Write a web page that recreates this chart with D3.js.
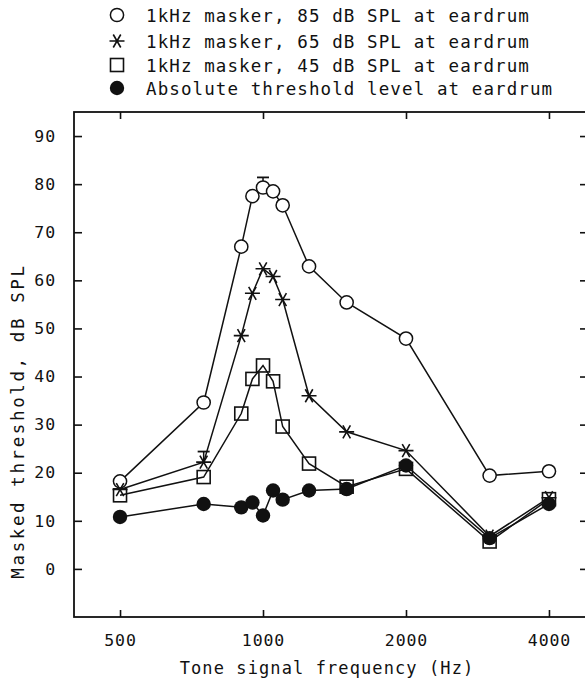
<!DOCTYPE html>
<html>
<head>
<meta charset="utf-8">
<script src="https://cdn.jsdelivr.net/npm/d3@7"></script>
<style>
  html, body { margin: 0; padding: 0; background: #fff; }
  svg { display: block; }
  text { font-family: "DejaVu Sans Mono", monospace; fill: #111; }
</style>
</head>
<body>
<svg id="chart" width="585" height="681"></svg>
<script>
// Tone frequencies (Hz) for the masker series and for the absolute threshold
const freqMasker = [500, 750, 900, 950, 1000, 1050, 1100, 1250, 1500, 2000, 3000, 4000];
const freqAbsolute = [500, 750, 900, 950, 1000, 1050, 1100, 1250, 1500, 2000, 3000, 4000];

// Masked thresholds in dB SPL
const masker85 = [18.2, 34.6, 67.0, 77.5, 79.3, 78.5, 75.6, 62.9, 55.4, 47.9, 19.4, 20.3];
const masker65 = [16.5, 22.2, 48.5, 57.3, 62.4, 60.8, 56.0, 36.0, 28.5, 24.6, 6.8, 14.8];
const masker45 = [15.3, 19.1, 32.3, 39.5, 42.3, 39.0, 29.6, 21.9, 17.1, 20.8, 5.7, 14.5];
const absoluteThreshold = [10.8, 13.5, 12.8, 13.8, 11.1, 16.3, 14.4, 16.3, 16.6, 21.5, 6.4, 13.5];

// Upper error bars: [frequency, mean, upper end]
const errorBars85 = [[1000, 79.3, 81.4]];
const errorBars65 = [[750, 22.2, 24.4]];

const xTicks = [500, 1000, 2000, 4000];
const yTicks = [0, 10, 20, 30, 40, 50, 60, 70, 80, 90];

const legendLabels = [
  "1kHz masker, 85 dB SPL at eardrum",
  "1kHz masker, 65 dB SPL at eardrum",
  "1kHz masker, 45 dB SPL at eardrum",
  "Absolute threshold level at eardrum"
];

const svg = d3.select("#chart");
const frame = { left: 74, right: 595, top: 112, bottom: 617 };

const x = d3.scaleLog().domain([400, 5000]).range([frame.left, frame.right]);
const y = d3.scaleLinear().domain([-10, 95]).range([frame.bottom, frame.top]);

const ink = "#111";
const fontSize = "16.5px";
const spacing = "0.9px";

// Frame box
svg.append("rect")
  .attr("x", frame.left).attr("y", frame.top)
  .attr("width", frame.right - frame.left).attr("height", frame.bottom - frame.top)
  .attr("fill", "none").attr("stroke", ink).attr("stroke-width", 1.8);

// Axes with inward ticks on all four sides
function styleAxis(g, showLabels) {
  g.select(".domain").remove();
  g.selectAll(".tick line").attr("stroke", ink).attr("stroke-width", 1.6);
  g.selectAll(".tick text")
    .attr("fill", ink)
    .style("font-family", '"DejaVu Sans Mono", monospace')
    .style("font-size", fontSize)
    .style("letter-spacing", spacing)
    .style("display", showLabels ? null : "none");
}

svg.append("g")
  .attr("transform", `translate(0,${frame.bottom})`)
  .call(d3.axisBottom(x).tickValues(xTicks).tickFormat(d3.format("d")).tickSize(-7).tickPadding(17))
  .call(g => styleAxis(g, true));

svg.append("g")
  .attr("transform", `translate(0,${frame.top})`)
  .call(d3.axisTop(x).tickValues(xTicks).tickSize(-7))
  .call(g => styleAxis(g, false));

svg.append("g")
  .attr("transform", `translate(${frame.left},0)`)
  .call(d3.axisLeft(y).tickValues(yTicks).tickSize(-8).tickPadding(18))
  .call(g => styleAxis(g, true));

svg.append("g")
  .attr("transform", `translate(${frame.right},0)`)
  .call(d3.axisRight(y).tickValues(yTicks).tickSize(-15))
  .call(g => styleAxis(g, false));

// Axis titles
svg.append("text")
  .attr("x", 327).attr("y", 674)
  .attr("text-anchor", "middle")
  .style("font-size", "17px").style("letter-spacing", "1.1px")
  .text("Tone signal frequency (Hz)");

svg.append("text")
  .attr("transform", "translate(24,421) rotate(-90)")
  .attr("text-anchor", "middle")
  .style("font-size", "17.5px").style("letter-spacing", "2.6px")
  .text("Masked threshold, dB SPL");

// Marker drawing helpers
const starPath = (() => {
  const r = 7.5, a = Math.PI / 3;
  const dx = r * Math.cos(a), dy = r * Math.sin(a);
  return `M${-r},0L${r},0M${-dx},${-dy}L${dx},${dy}M${-dx},${dy}L${dx},${-dy}`;
})();

function drawMarker(g, type) {
  if (type === "open") {
    g.append("circle").attr("r", 6.6).attr("fill", "#fff").attr("stroke", ink).attr("stroke-width", 1.5);
  } else if (type === "star") {
    g.append("path").attr("d", starPath).attr("fill", "none").attr("stroke", ink).attr("stroke-width", 1.6);
  } else if (type === "square") {
    g.append("rect").attr("x", -6.5).attr("y", -6.5).attr("width", 13).attr("height", 13)
      .attr("fill", "none").attr("stroke", ink).attr("stroke-width", 1.6);
  } else {
    g.append("circle").attr("r", 7.2).attr("fill", ink);
  }
}

const series = [
  { freqs: freqMasker, values: masker85, type: "open" },
  { freqs: freqMasker, values: masker65, type: "star" },
  { freqs: freqMasker, values: masker45, type: "square" },
  { freqs: freqAbsolute, values: absoluteThreshold, type: "filled" }
];

const line = d3.line().x(d => x(d[0])).y(d => y(d[1]));

// Connecting lines first, markers on top
series.forEach(s => {
  const pts = s.freqs.map((f, i) => [f, s.values[i]]);
  svg.append("path")
    .attr("d", line(pts))
    .attr("fill", "none").attr("stroke", ink).attr("stroke-width", 1.5);
});

// Error bars
function drawErrorBars(data) {
  data.forEach(([f, v, hi]) => {
    svg.append("line")
      .attr("x1", x(f)).attr("x2", x(f)).attr("y1", y(v)).attr("y2", y(hi))
      .attr("stroke", ink).attr("stroke-width", 1.5);
    svg.append("line")
      .attr("x1", x(f) - 6).attr("x2", x(f) + 6).attr("y1", y(hi)).attr("y2", y(hi))
      .attr("stroke", ink).attr("stroke-width", 1.8);
  });
}
drawErrorBars(errorBars85);
drawErrorBars(errorBars65);

series.forEach(s => {
  s.freqs.forEach((f, i) => {
    const g = svg.append("g").attr("transform", `translate(${x(f)},${y(s.values[i])})`);
    drawMarker(g, s.type);
  });
});

// Legend
const legendRows = [15, 41, 65, 88];
legendLabels.forEach((label, i) => {
  const g = svg.append("g").attr("transform", `translate(117,${legendRows[i]})`);
  drawMarker(g, series[i].type);
  svg.append("text")
    .attr("x", 146).attr("y", legendRows[i] + 6.5)
    .style("font-size", "17.5px").style("letter-spacing", "1.1px")
    .text(label);
});
</script>
</body>
</html>
